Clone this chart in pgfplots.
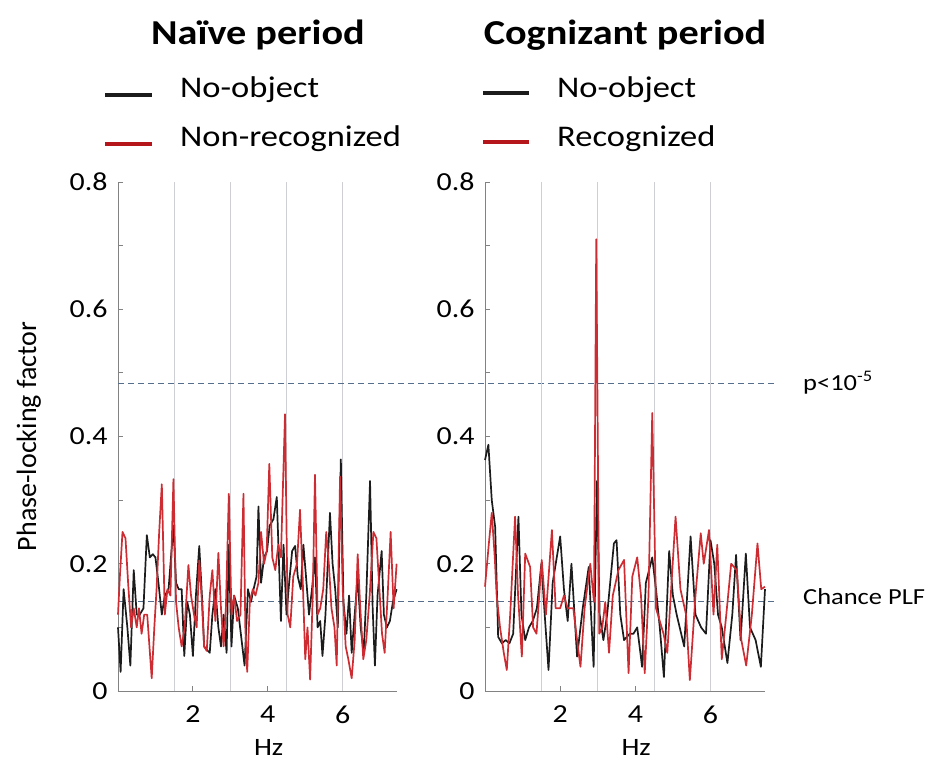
\documentclass[border=0pt]{standalone}
\usepackage{fontspec}
\setmainfont{Carlito}[FakeStretch=1.15]
\newfontfamily\plainfont{Carlito}
\usepackage{pgfplots}
\pgfplotsset{compat=1.18}
\definecolor{plfred}{RGB}{205,45,50}
\definecolor{legred}{RGB}{180,22,28}
\definecolor{plfblack}{RGB}{28,28,28}
\definecolor{dashc}{RGB}{85,110,140}
\definecolor{axgray}{RGB}{130,130,130}
\definecolor{gridgray}{RGB}{205,207,212}

\pgfplotstableread{
x y
0.00 0.10
0.07 0.03
0.15 0.16
0.25 0.10
0.33 0.04
0.42 0.19
0.50 0.12
0.58 0.12
0.68 0.13
0.77 0.245
0.85 0.21
0.93 0.215
1.00 0.21
1.08 0.17
1.17 0.12
1.25 0.15
1.35 0.16
1.48 0.26
1.55 0.17
1.62 0.16
1.70 0.16
1.77 0.055
1.85 0.14
1.92 0.12
2.00 0.055
2.08 0.15
2.17 0.228
2.25 0.14
2.30 0.07
2.37 0.065
2.45 0.06
2.52 0.12
2.60 0.16
2.68 0.10
2.75 0.07
2.82 0.12
2.90 0.06
2.96 0.23
3.03 0.07
3.10 0.15
3.20 0.13
3.30 0.08
3.38 0.04
3.47 0.16
3.55 0.14
3.62 0.16
3.70 0.18
3.75 0.29
3.82 0.17
3.90 0.21
3.98 0.22
4.05 0.26
4.15 0.27
4.24 0.305
4.30 0.20
4.35 0.11
4.42 0.23
4.50 0.12
4.57 0.17
4.65 0.22
4.73 0.228
4.80 0.18
4.88 0.16
4.95 0.23
5.02 0.18
5.10 0.12
5.18 0.16
5.26 0.21
5.33 0.10
5.40 0.11
5.46 0.055
5.54 0.12
5.60 0.20
5.66 0.28
5.73 0.20
5.80 0.16
5.87 0.10
5.95 0.364
6.02 0.14
6.10 0.09
6.17 0.15
6.24 0.06
6.32 0.12
6.40 0.18
6.48 0.10
6.56 0.06
6.63 0.15
6.73 0.33
6.80 0.13
6.86 0.04
6.93 0.15
7.04 0.22
7.10 0.12
7.18 0.10
7.26 0.11
7.34 0.14
7.44 0.16
}\naiveblack

\pgfplotstableread{
x y
0.00 0.12
0.05 0.18
0.12 0.25
0.20 0.24
0.27 0.17
0.35 0.10
0.42 0.13
0.50 0.10
0.56 0.13
0.63 0.09
0.70 0.12
0.78 0.12
0.90 0.02
0.97 0.10
1.03 0.16
1.10 0.25
1.17 0.325
1.25 0.12
1.32 0.16
1.40 0.15
1.48 0.333
1.55 0.14
1.62 0.10
1.70 0.07
1.78 0.10
1.88 0.198
1.95 0.15
2.03 0.12
2.10 0.10
2.17 0.205
2.24 0.14
2.30 0.07
2.37 0.063
2.45 0.15
2.52 0.19
2.60 0.11
2.68 0.217
2.75 0.13
2.82 0.07
2.88 0.13
2.96 0.31
3.03 0.12
3.10 0.15
3.18 0.11
3.27 0.12
3.35 0.31
3.40 0.10
3.45 0.03
3.52 0.14
3.60 0.16
3.67 0.15
3.75 0.17
3.82 0.25
3.90 0.20
3.97 0.22
4.04 0.357
4.12 0.21
4.20 0.19
4.28 0.23
4.35 0.21
4.46 0.435
4.53 0.12
4.60 0.10
4.68 0.18
4.78 0.20
4.86 0.285
4.93 0.18
5.00 0.05
5.06 0.10
5.13 0.018
5.20 0.15
5.26 0.34
5.33 0.12
5.40 0.13
5.48 0.16
5.56 0.25
5.63 0.20
5.70 0.13
5.78 0.10
5.84 0.04
5.93 0.337
6.00 0.16
6.08 0.07
6.15 0.05
6.24 0.02
6.32 0.08
6.40 0.215
6.47 0.13
6.55 0.05
6.63 0.08
6.72 0.15
6.82 0.25
6.90 0.24
6.98 0.16
7.05 0.09
7.12 0.06
7.20 0.15
7.28 0.25
7.36 0.13
7.44 0.20
}\naivered

\pgfplotstableread{
x y
0.00 0.363
0.09 0.387
0.18 0.30
0.27 0.258
0.32 0.15
0.35 0.085
0.45 0.075
0.55 0.08
0.65 0.075
0.75 0.09
0.89 0.274
0.97 0.12
1.07 0.08
1.17 0.10
1.27 0.11
1.38 0.13
1.50 0.20
1.60 0.11
1.69 0.033
1.80 0.17
2.00 0.243
2.10 0.16
2.20 0.11
2.30 0.20
2.45 0.054
2.60 0.13
2.76 0.195
2.89 0.038
2.98 0.33
3.05 0.12
3.15 0.08
3.25 0.12
3.43 0.232
3.50 0.237
3.60 0.12
3.70 0.08
3.85 0.09
3.95 0.09
4.05 0.10
4.18 0.038
4.28 0.17
4.45 0.21
4.55 0.16
4.65 0.10
4.76 0.022
4.90 0.22
5.00 0.15
5.10 0.12
5.30 0.07
5.47 0.243
5.60 0.12
5.75 0.10
5.88 0.09
6.00 0.237
6.10 0.20
6.20 0.12
6.30 0.10
6.45 0.044
6.58 0.12
6.68 0.214
6.80 0.08
6.94 0.216
7.05 0.10
7.20 0.08
7.34 0.038
7.45 0.16
}\cogblack

\pgfplotstableread{
x y
0.00 0.164
0.10 0.23
0.18 0.28
0.26 0.21
0.31 0.15
0.40 0.10
0.50 0.06
0.58 0.033
0.67 0.12
0.80 0.274
0.88 0.15
0.98 0.054
1.07 0.216
1.20 0.195
1.28 0.10
1.37 0.09
1.51 0.206
1.62 0.12
1.78 0.253
1.88 0.13
2.00 0.13
2.10 0.15
2.20 0.13
2.35 0.13
2.45 0.08
2.54 0.038
2.65 0.13
2.80 0.20
2.90 0.14
2.96 0.71
3.04 0.09
3.12 0.10
3.20 0.14
3.30 0.06
3.40 0.15
3.55 0.19
3.70 0.206
3.82 0.028
3.92 0.18
4.05 0.21
4.15 0.15
4.25 0.028
4.35 0.15
4.45 0.437
4.55 0.13
4.65 0.11
4.75 0.09
4.85 0.06
5.07 0.274
5.20 0.16
5.35 0.12
5.45 0.017
5.60 0.15
5.74 0.248
5.82 0.20
5.96 0.253
6.08 0.12
6.18 0.23
6.30 0.05
6.42 0.12
6.55 0.20
6.70 0.19
6.82 0.08
6.95 0.04
7.10 0.12
7.25 0.232
7.35 0.16
7.45 0.164
}\cogred

\pgfplotsset{plfaxis/.style={
  scale only axis, height=509pt,
  xmin=0, xmax=7.45, ymin=0, ymax=0.8,
  axis x line*=bottom, axis y line*=left,
  axis line style={axgray, line width=0.9pt},
  every tick/.style={axgray, line width=0.9pt},
  tick align=inside, major tick length=5pt,
  xtick={2,4,6}, xticklabels={2,4,6},
  ytick={0,0.1,0.2,0.3,0.4,0.5,0.6,0.7,0.8},
  yticklabels={0,,0.2,,0.4,,0.6,,0.8},
  extra x ticks={1.5,3,4.5,6}, extra x tick labels={},
  extra x tick style={grid=major, major grid style={gridgray, line width=0.8pt}, major tick length=0pt},
  /pgf/number format/assume math mode=true,
  xticklabel style={font=\fontsize{26}{26}\selectfont, yshift=-11pt},
  yticklabel style={font=\fontsize{26}{26}\selectfont, xshift=-7pt},
  clip=false,
  xlabel={Hz},
  xlabel style={font=\fontsize{25}{25}\selectfont, at={(axis description cs:0.54,-0.11)}, anchor=center},
  every axis plot/.append style={line width=1.7pt, line join=round},
}}

\begin{document}
\begin{tikzpicture}
\begin{axis}[plfaxis, at={(118pt,72pt)}, anchor=south west, width=279pt,
  ylabel={Phase-locking factor},
  ylabel style={font=\plainfont\fontsize{28}{28}\selectfont, at={(axis description cs:-0.32,0.5)}, anchor=center, rotate=0}]
\addplot[dashc, line width=0.9pt, dash pattern=on 6pt off 4pt] coordinates {(0,0.483) (17.54,0.483)};
\addplot[dashc, line width=0.9pt, dash pattern=on 6pt off 4pt] coordinates {(0,0.141) (17.54,0.141)};
\addplot[plfblack] table {\naiveblack};
\addplot[plfred] table {\naivered};
\end{axis}
\begin{axis}[plfaxis, at={(485pt,72pt)}, anchor=south west, width=280pt]
\addplot[plfblack] table {\cogblack};
\addplot[plfred] table {\cogred};
\end{axis}
% titles
\node[anchor=base, font=\bfseries\fontsize{35}{35}\selectfont] at (258pt,718pt) {Naïve period};
\node[anchor=base, font=\bfseries\fontsize{35}{35}\selectfont] at (625pt,718pt) {Cognizant period};
% legends
\draw[plfblack, line width=3.5pt] (105pt,668pt) -- (152pt,668pt);
\draw[legred, line width=3.5pt] (105pt,619pt) -- (152pt,619pt);
\node[anchor=base west, inner sep=0pt, font=\fontsize{30}{30}\selectfont] at (180pt,665pt) {No-object};
\node[anchor=base west, inner sep=0pt, font=\fontsize{30}{30}\selectfont] at (180pt,616pt) {Non-recognized};
\draw[plfblack, line width=3.5pt] (483pt,670pt) -- (529pt,670pt);
\draw[legred, line width=3.5pt] (483pt,621pt) -- (529pt,621pt);
\node[anchor=base west, inner sep=0pt, font=\fontsize{30}{30}\selectfont] at (557pt,665pt) {No-object};
\node[anchor=base west, inner sep=0pt, font=\fontsize{30}{30}\selectfont] at (557pt,616pt) {Recognized};
% annotations
\node[anchor=west, inner sep=0pt, font=\fontsize{23}{23}\selectfont] at (803pt,380pt) {p<10\textsuperscript{-5}};
\node[anchor=west, inner sep=0pt, font=\fontsize{23}{23}\selectfont] at (803pt,166pt) {Chance PLF};
\pgfresetboundingbox
\path (0pt,0pt) rectangle (932pt,763pt);
\end{tikzpicture}
\end{document}
